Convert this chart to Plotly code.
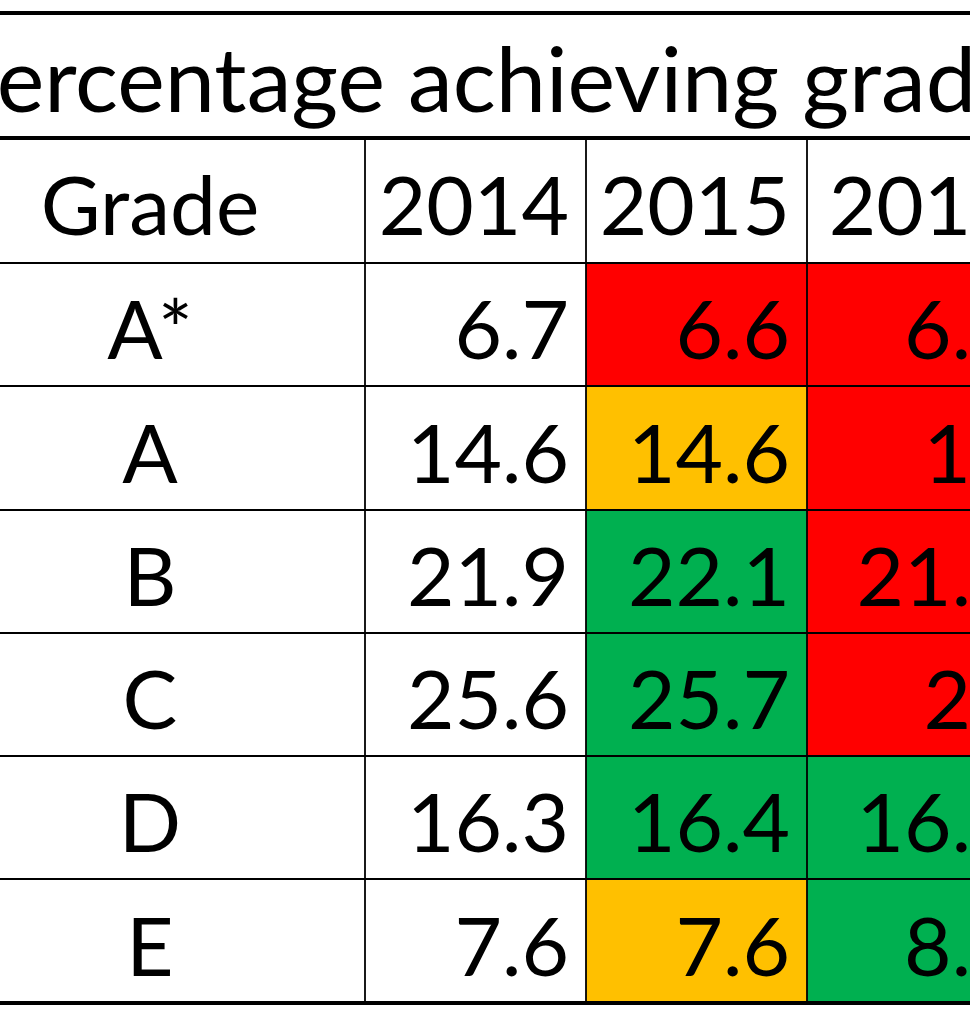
import plotly.graph_objects as go

# table contents
title = "Percentage achieving grade"
col_headers = ["Grade", "2014", "2015", "2016"]
grades = ["A*", "A", "B", "C", "D", "E"]
y2014 = [6.7, 14.6, 21.9, 25.6, 16.3, 7.6]
y2015 = [6.6, 14.6, 22.1, 25.7, 16.4, 7.6]
# 2016 column is cut off by the right edge of the picture, only these parts show
y2016 = ["6.", "1", "21.", "2", "16.", "8."]
fill2015 = ["red", "amber", "green", "green", "green", "amber"]
fill2016 = ["red", "red", "red", "red", "green", "green"]

colors = {"red": "#FF0000", "amber": "#FFC000", "green": "#00B050"}

# grid geometry in page pixels (picture is a crop of a bigger sheet)
W, H = 970, 1024
row_edges = [13, 138, 263, 386, 510, 633, 756, 879, 1003]
col_edges = [-65, 365, 586, 807, 1036]
pad = 17
font = dict(family="Lato, Calibri, sans-serif", size=82, color="black")
title_font = dict(family="Lato, Calibri, sans-serif", size=90, color="black")
text_drop = 14

fig = go.Figure()

def row_mid(r):
    return (row_edges[r] + row_edges[r + 1]) / 2 + text_drop

# coloured cells
for i in range(len(grades)):
    r = i + 2
    for c, fills in [(2, fill2015), (3, fill2016)]:
        fig.add_shape(type="rect", x0=col_edges[c], x1=col_edges[c + 1],
                      y0=row_edges[r], y1=row_edges[r + 1],
                      fillcolor=colors[fills[i]], line_width=0, layer="below")

# thin horizontal lines
for r in range(2, len(row_edges) - 1):
    fig.add_shape(type="line", x0=col_edges[0], x1=col_edges[-1],
                  y0=row_edges[r], y1=row_edges[r], line=dict(color="black", width=1.8))
# vertical lines (not through the merged title row)
for c in range(1, len(col_edges) - 1):
    fig.add_shape(type="line", x0=col_edges[c], x1=col_edges[c],
                  y0=row_edges[1], y1=row_edges[-1], line=dict(color="black", width=1.8))
# thick borders
for y in [row_edges[0], row_edges[1], row_edges[-1]]:
    fig.add_shape(type="line", x0=col_edges[0], x1=col_edges[-1],
                  y0=y, y1=y, line=dict(color="black", width=4))

# title (merged over all columns, starts left of the crop)
fig.add_trace(go.Scatter(x=[-55], y=[row_mid(0)], mode="text", text=[title],
                         textposition="middle right", textfont=title_font, hoverinfo="skip"))

# header row
fig.add_trace(go.Scatter(x=[(col_edges[0] + col_edges[1]) / 2], y=[row_mid(1)],
                         mode="text", text=[col_headers[0]], textposition="middle center",
                         textfont=font, hoverinfo="skip"))
fig.add_trace(go.Scatter(x=[col_edges[c + 1] - pad for c in range(1, 4)],
                         y=[row_mid(1)] * 3, mode="text", text=col_headers[1:],
                         textposition="middle left", textfont=font, hoverinfo="skip"))

# body rows
ys = [row_mid(i + 2) for i in range(len(grades))]
fig.add_trace(go.Scatter(x=[(col_edges[0] + col_edges[1]) / 2] * len(grades), y=ys,
                         mode="text", text=grades, textposition="middle center",
                         textfont=font, hoverinfo="skip"))
fig.add_trace(go.Scatter(x=[col_edges[2] - pad] * len(grades), y=ys, mode="text",
                         text=[f"{v:.1f}" for v in y2014], textposition="middle left",
                         textfont=font, hoverinfo="skip"))
fig.add_trace(go.Scatter(x=[col_edges[3] - pad] * len(grades), y=ys, mode="text",
                         text=[f"{v:.1f}" for v in y2015], textposition="middle left",
                         textfont=font, hoverinfo="skip"))
fig.add_trace(go.Scatter(x=[W + 1] * len(grades), y=ys, mode="text",
                         text=y2016, textposition="middle left",
                         textfont=font, hoverinfo="skip"))

fig.update_xaxes(range=[0, W], visible=False, fixedrange=True)
fig.update_yaxes(range=[H, 0], visible=False, fixedrange=True)
fig.update_layout(width=W, height=H, margin=dict(l=0, r=0, t=0, b=0),
                  plot_bgcolor="white", paper_bgcolor="white", showlegend=False)

# drop the default 8px page margin so the table sits in the corner
fig.write_html("out.html", config={"displayModeBar": False},
               post_script="document.body.style.margin = '0';")
